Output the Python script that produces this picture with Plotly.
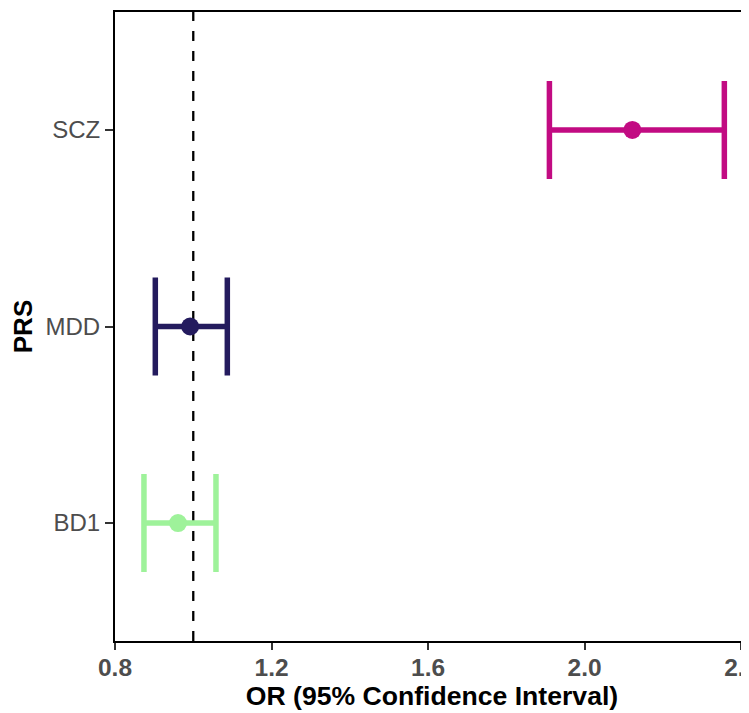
import plotly.graph_objects as go

# Data
categories = ["BD1", "MDD", "SCZ"]
odds_ratio = [0.961, 0.992, 2.122]
ci_low = [0.874, 0.903, 1.910]
ci_high = [1.058, 1.087, 2.357]
colors = ["#9EF29A", "#241B5E", "#C20B82"]
x_ticks = [0.8, 1.2, 1.6, 2.0, 2.4]
x_tick_labels = ["0.8", "1.2", "1.6", "2.0", "2.4"]
ref_line = 1.0

fig = go.Figure()
for i, cat in enumerate(categories):
    fig.add_trace(go.Scatter(
        x=[odds_ratio[i]], y=[cat], mode="markers",
        marker=dict(color=colors[i], size=18),
        error_x=dict(type="data", symmetric=False,
                     array=[ci_high[i] - odds_ratio[i]],
                     arrayminus=[odds_ratio[i] - ci_low[i]],
                     color=colors[i], thickness=5.5, width=49),
        showlegend=False, cliponaxis=False,
    ))

fig.add_shape(type="line", xref="x", yref="paper", x0=ref_line, x1=ref_line,
              y0=0, y1=1, line=dict(color="black", width=2.3, dash="10px,10px"),
              layer="below")

font_family = "Liberation Sans, Arial, sans-serif"
fig.update_layout(
    width=741, height=705,
    margin=dict(l=107, r=0, t=4, b=72),
    plot_bgcolor="white", paper_bgcolor="white",
    font=dict(family=font_family),
    xaxis=dict(
        range=[0.8, 2.42], tickvals=x_ticks, ticktext=x_tick_labels,
        showgrid=False, zeroline=False,
        showline=True, linecolor="black", linewidth=2, mirror=True,
        ticks="outside", ticklen=7, tickwidth=2, tickcolor="#333333",
        ticklabelstandoff=-3, ticklabeloverflow="allow",
        tickfont=dict(size=24.5, color="#4D4D4D", weight="bold", family=font_family),
        title=dict(text="OR (95% Confidence Interval)", standoff=6,
                   font=dict(size=26.6, color="black", weight="bold", family=font_family)),
        automargin=False,
    ),
    yaxis=dict(
        type="category", categoryorder="array", categoryarray=categories,
        range=[-0.6, 2.6],
        showgrid=False, zeroline=False,
        showline=True, linecolor="black", linewidth=2,
        ticks="outside", ticklen=8, tickwidth=2, tickcolor="#333333",
        tickfont=dict(size=24, color="#4D4D4D", family=font_family),
        title=dict(text="PRS", standoff=6,
                   font=dict(size=26, color="black", weight="bold", family=font_family)),
        automargin=False,
    ),
)

fig.write_html("out.html")
